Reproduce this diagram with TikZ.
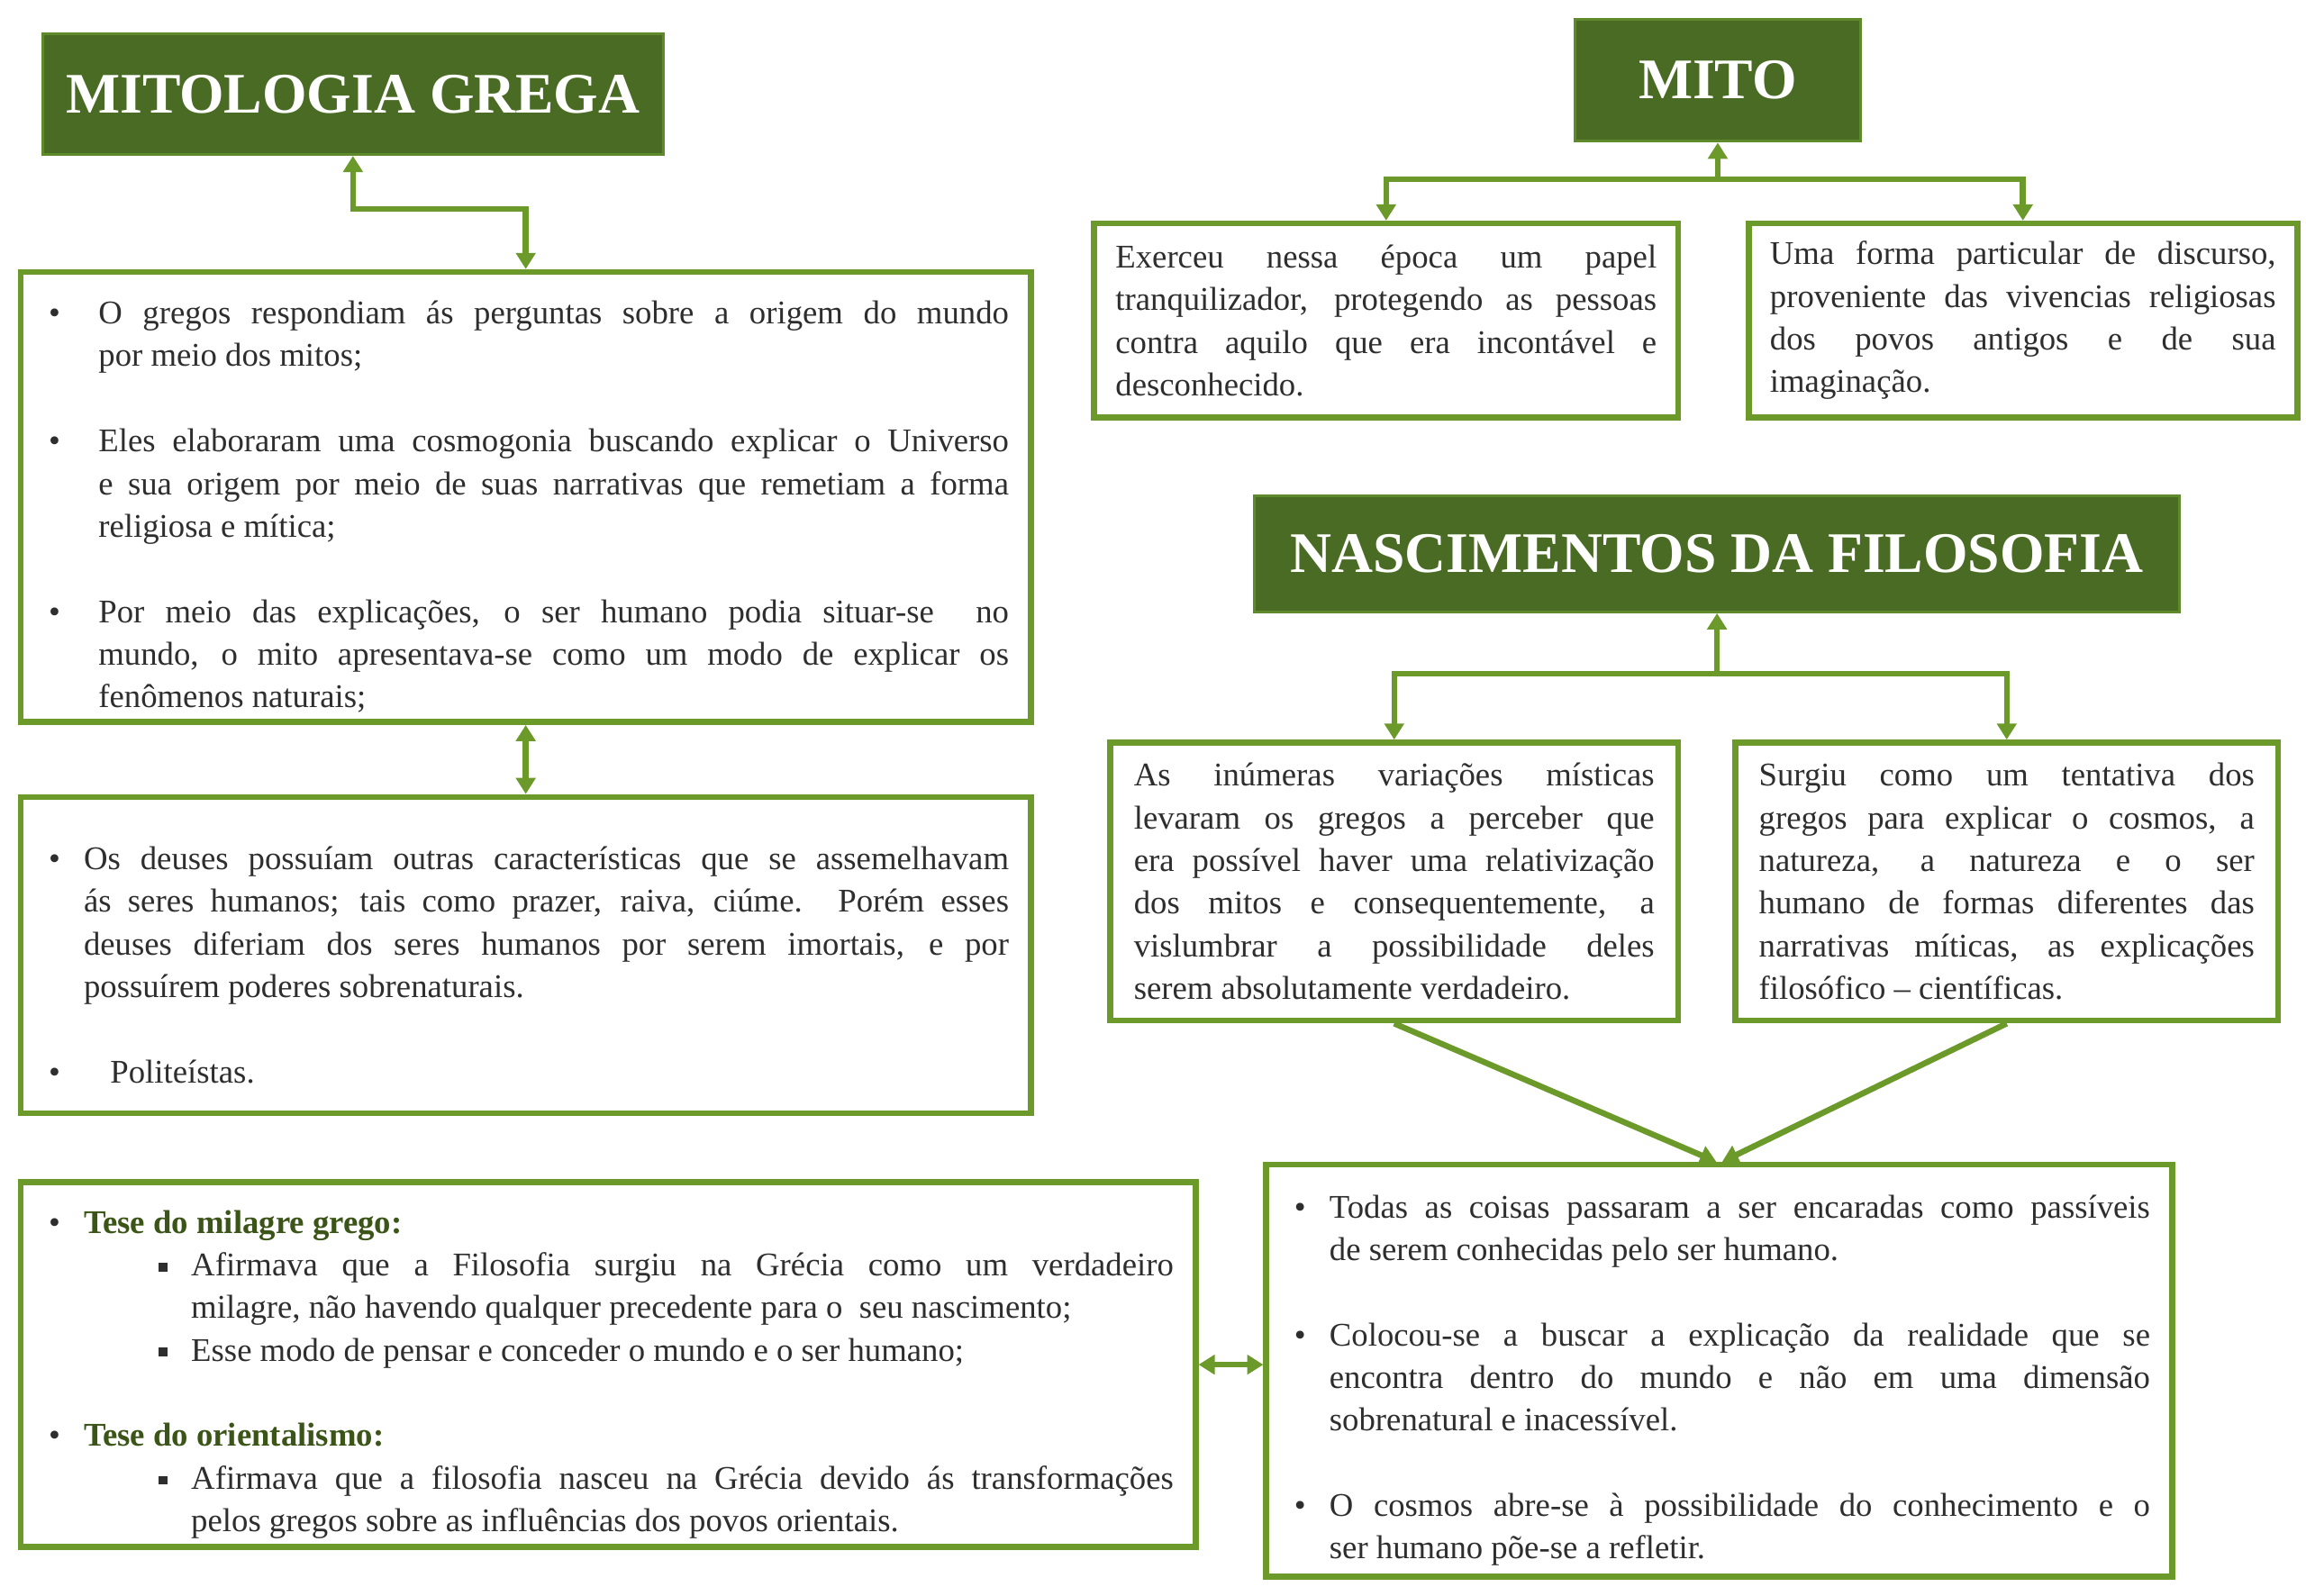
\documentclass[tikz,border=0pt]{standalone}
\usepackage{fontspec}
\setmainfont{Liberation Serif}
\usepackage{enumitem}
\usetikzlibrary{arrows.meta}
\definecolor{gc}{HTML}{6B9A2A}
\definecolor{gd}{HTML}{4A6B24}
\definecolor{gb}{HTML}{5F8A2C}
\definecolor{tc}{HTML}{2E2E2E}
\definecolor{hc}{HTML}{3B5518}
\hfuzz=50pt \hbadness=10000
\newcommand{\fsz}{\fontsize{22.5}{29}\selectfont}
\newcommand{\sqb}{\raisebox{3pt}{\rule{6pt}{6pt}}}
\setlist[itemize]{nosep,itemsep=29pt,label=\textbullet}
\tikzset{
 box/.style={draw=gc, line width=4pt, fill=white, anchor=north west, inner xsep=14pt, inner ysep=4pt, align=justify, font=\fsz, text=tc},
 ttl/.style={draw=gb, line width=2pt, fill=gd, text=white, font=\bfseries\fontsize{39}{44}\selectfont, anchor=north west, inner sep=0pt, align=center},
 con/.style={draw=gc, line width=4pt},
 tip/.style={con, -{Triangle[length=11pt,width=13pt]}},
 tips/.style={con, {Triangle[length=11pt,width=13pt]}-{Triangle[length=11pt,width=13pt]}}
}
\begin{document}
\begin{tikzpicture}[x=1pt,y=-1pt]
\useasboundingbox (0,0) rectangle (1568,1085);
% titles
\node[ttl, minimum width=422, minimum height=82] (mg) at (28,22) {MITOLOGIA GREGA};
\node[ttl, minimum width=194, minimum height=83] (mito) at (1070,12) {MITO};
\node[ttl, minimum width=629, minimum height=79] (nasc) at (852,336) {NASCIMENTOS DA FILOSOFIA};
% box 1
\node[box, text width=657, minimum width=687, minimum height=306] (b1) at (12,183) {%
\begin{itemize}[leftmargin=38pt,labelsep=26pt]
\item O gregos respondiam ás perguntas sobre a origem do mundo\linebreak por meio dos mitos;
\item Eles elaboraram uma cosmogonia buscando explicar o Universo\linebreak e sua origem por meio de suas narrativas que remetiam a forma\linebreak religiosa e mítica;
\item Por meio das explicações, o ser humano podia situar-se ~no\linebreak mundo, o mito apresentava-se como um modo de explicar os\linebreak fenômenos naturais;
\end{itemize}};
% box 2
\node[box, text width=657, minimum width=687, minimum height=215] (b2) at (12,540) {%
\begin{itemize}[leftmargin=28pt,labelsep=16pt]
\item Os deuses possuíam outras características que se assemelhavam\linebreak ás seres humanos; tais como prazer, raiva, ciúme. Porém esses\linebreak deuses diferiam dos seres humanos por serem imortais, e por\linebreak possuírem poderes sobrenaturais.
\item \hspace*{18pt}Politeístas.
\end{itemize}};
% box 3
\node[box, text width=769, minimum width=799, minimum height=248] (b3) at (12,802) {%
\begin{itemize}[leftmargin=28pt,labelsep=16pt]
\item {\color{hc}\bfseries Tese do milagre grego:}
\begin{itemize}[leftmargin=73pt,labelsep=16pt,itemsep=0pt,topsep=0pt,partopsep=0pt,label=\sqb]
\item Afirmava que a Filosofia surgiu na Grécia como um verdadeiro\linebreak milagre, não havendo qualquer precedente para o ~seu nascimento;
\item Esse modo de pensar e conceder o mundo e o ser humano;
\end{itemize}
\item {\color{hc}\bfseries Tese do orientalismo:}
\begin{itemize}[leftmargin=73pt,labelsep=16pt,itemsep=0pt,topsep=0pt,partopsep=0pt,label=\sqb]
\item Afirmava que a filosofia nasceu na Grécia devido ás transformações\linebreak pelos gregos sobre as influências dos povos orientais.
\end{itemize}
\end{itemize}};
% mito boxes
\node[box, text width=368, minimum width=397, minimum height=132] (ex) at (742,150) {Exerceu nessa época um papel\linebreak tranquilizador, protegendo as pessoas\linebreak contra aquilo que era incontável e\linebreak desconhecido.};
\node[box, text width=344, minimum width=373, minimum height=132] (uf) at (1187,150) {Uma forma particular de discurso,\linebreak proveniente das vivencias religiosas\linebreak dos povos antigos e de sua\linebreak imaginação.};
% nasc boxes
\node[box, text width=354, minimum width=386, minimum height=189, inner xsep=16pt] (as) at (753,503) {As inúmeras variações místicas\linebreak levaram os gregos a perceber que\linebreak era possível haver uma relativização\linebreak dos mitos e consequentemente, a\linebreak vislumbrar a possibilidade deles\linebreak serem absolutamente verdadeiro.};
\node[box, text width=337, minimum width=369, minimum height=189, inner xsep=16pt] (sg) at (1178,503) {Surgiu como um tentativa dos\linebreak gregos para explicar o cosmos, a\linebreak natureza, a natureza e o ser\linebreak humano de formas diferentes das\linebreak narrativas míticas, as explicações\linebreak filosófico -- científicas.};
% todas
\node[box, text width=586, minimum width=616, minimum height=280] (td) at (859,790) {%
\begin{itemize}[leftmargin=28pt,labelsep=16pt]
\item Todas as coisas passaram a ser encaradas como passíveis\linebreak de serem conhecidas pelo ser humano.
\item Colocou-se a buscar a explicação da realidade que se\linebreak encontra dentro do mundo e não em uma dimensão\linebreak sobrenatural e inacessível.
\item O cosmos abre-se à possibilidade do conhecimento e o\linebreak ser humano põe-se a refletir.
\end{itemize}};
% connectors
\draw[tips] (mg.south) -- ++(0,36) -| (b1.north);
\draw[tips] (b1.south) -- (b2.north);
\draw[tips] (b3.east) -- (b3.east -| td.west);
\coordinate (mj) at (mito.south |- 0,122);
\draw[tip] (mj) -- (mito.south);
\draw[tip] (mj) -| (ex.north);
\draw[tip] (mj) -| (uf.north);
\coordinate (nj) at (nasc.south |- 0,458);
\draw[tip] (nj) -- (nasc.south);
\draw[tip] (nj) -| (as.north);
\draw[tip] (nj) -| (sg.north);
\draw[tip] (as.south) -- ([xshift=-2pt]td.north);
\draw[tip] (sg.south) -- ([xshift=2pt]td.north);
\end{tikzpicture}
\end{document}
